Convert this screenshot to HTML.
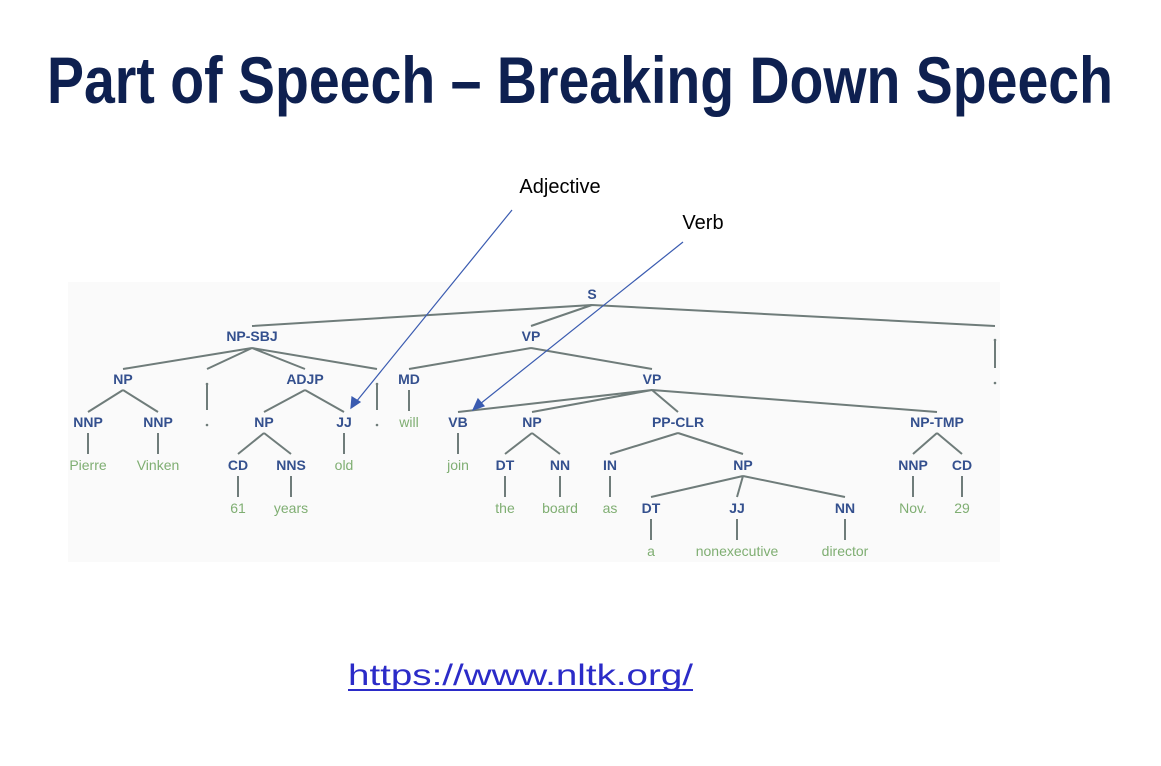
<!DOCTYPE html>
<html><head><meta charset="utf-8"><style>
html,body{margin:0;padding:0;background:#fff;}
svg{display:block;}
.t{font-family:"Liberation Sans",sans-serif;font-size:14px;font-weight:bold;fill:#34508e;text-anchor:middle;}
.w{font-family:"Liberation Sans",sans-serif;font-size:14px;fill:#7fae72;text-anchor:middle;}
.l{stroke:#6f7c7a;stroke-width:2;fill:none;}
</style></head><body>
<svg width="1161" height="766" viewBox="0 0 1161 766" xmlns="http://www.w3.org/2000/svg">
<rect x="0" y="0" width="1161" height="766" fill="#fff"/>
<text x="47" y="103" textLength="1066" lengthAdjust="spacingAndGlyphs" font-family="Liberation Sans, sans-serif" font-weight="bold" font-size="66" fill="#0e2050">Part of Speech – Breaking Down Speech</text>
<rect x="68" y="282" width="932" height="280" fill="#fafafa"/>
<g class="l">
<!-- S -->
<path d="M592 305 L252 326 M592 305 L531 326 M592 305 L995 326"/>
<!-- NP-SBJ -->
<path d="M252 348 L123 369 M252 348 L207 369 M252 348 L305 369 M252 348 L377 369"/>
<!-- VP -->
<path d="M531 348 L409 369 M531 348 L652 369"/>
<!-- punct -->
<path d="M207 383 L207 410 M377 383 L377 410 M995 340 L995 368"/>
<!-- NP -->
<path d="M123 390 L88 412 M123 390 L158 412"/>
<path d="M88 433 L88 454 M158 433 L158 454"/>
<!-- ADJP -->
<path d="M305 390 L264 412 M305 390 L344 412"/>
<path d="M264 433 L238 454 M264 433 L291 454 M344 433 L344 454"/>
<path d="M238 476 L238 497 M291 476 L291 497"/>
<path d="M409 390 L409 411"/>
<!-- VP2 -->
<path d="M652 390 L458 412 M652 390 L532 412 M652 390 L678 412 M652 390 L937 412"/>
<path d="M458 433 L458 454"/>
<path d="M532 433 L505 454 M532 433 L560 454 M505 476 L505 497 M560 476 L560 497"/>
<path d="M678 433 L610 454 M678 433 L743 454 M610 476 L610 497"/>
<path d="M743 476 L651 497 M743 476 L737 497 M743 476 L845 497"/>
<path d="M651 519 L651 540 M737 519 L737 540 M845 519 L845 540"/>
<path d="M937 433 L913 454 M937 433 L962 454 M913 476 L913 497 M962 476 L962 497"/>
</g>
<g fill="#6f7c7a"><circle cx="207" cy="384" r="1.3"/><circle cx="207" cy="425" r="1.3"/><circle cx="377" cy="384" r="1.3"/><circle cx="377" cy="425" r="1.3"/><circle cx="995" cy="340" r="1.3"/><circle cx="995" cy="383" r="1.3"/></g>
<g class="t">
<text x="592" y="299">S</text>
<text x="252" y="341">NP-SBJ</text><text x="531" y="341">VP</text>
<text x="123" y="384">NP</text><text x="305" y="384">ADJP</text><text x="409" y="384">MD</text><text x="652" y="384">VP</text>
<text x="88" y="427">NNP</text><text x="158" y="427">NNP</text><text x="264" y="427">NP</text><text x="344" y="427">JJ</text>
<text x="458" y="427">VB</text><text x="532" y="427">NP</text><text x="678" y="427">PP-CLR</text><text x="937" y="427">NP-TMP</text>
<text x="238" y="470">CD</text><text x="291" y="470">NNS</text><text x="505" y="470">DT</text><text x="560" y="470">NN</text>
<text x="610" y="470">IN</text><text x="743" y="470">NP</text><text x="913" y="470">NNP</text><text x="962" y="470">CD</text>
<text x="651" y="513">DT</text><text x="737" y="513">JJ</text><text x="845" y="513">NN</text>
</g>
<g class="w">
<text x="409" y="427">will</text>
<text x="88" y="470">Pierre</text><text x="158" y="470">Vinken</text><text x="344" y="470">old</text><text x="458" y="470">join</text>
<text x="238" y="513">61</text><text x="291" y="513">years</text><text x="505" y="513">the</text><text x="560" y="513">board</text><text x="610" y="513">as</text>
<text x="913" y="513">Nov.</text><text x="962" y="513">29</text>
<text x="651" y="556">a</text><text x="737" y="556">nonexecutive</text><text x="845" y="556">director</text>
</g>
<!-- annotations -->
<text x="560" y="193" text-anchor="middle" font-family="Liberation Sans, sans-serif" font-size="20" fill="#000">Adjective</text>
<text x="703" y="229" text-anchor="middle" font-family="Liberation Sans, sans-serif" font-size="20" fill="#000">Verb</text>
<g stroke="#3a5bb0" stroke-width="1.2" fill="#3a5bb0">
<line x1="512" y1="210" x2="356" y2="402"/>
<polygon points="351,408 352,397 360,402" />
<line x1="683" y1="242" x2="480" y2="404"/>
<polygon points="473,410 478,399 484,406"/>
</g>
<text x="348" y="685" textLength="345" lengthAdjust="spacingAndGlyphs" font-family="Liberation Sans, sans-serif" font-size="30" fill="#2b2bc8">https://www.nltk.org/</text>
<rect x="348" y="689" width="345" height="2" fill="#2b2bc8"/>
</svg>
</body></html>
